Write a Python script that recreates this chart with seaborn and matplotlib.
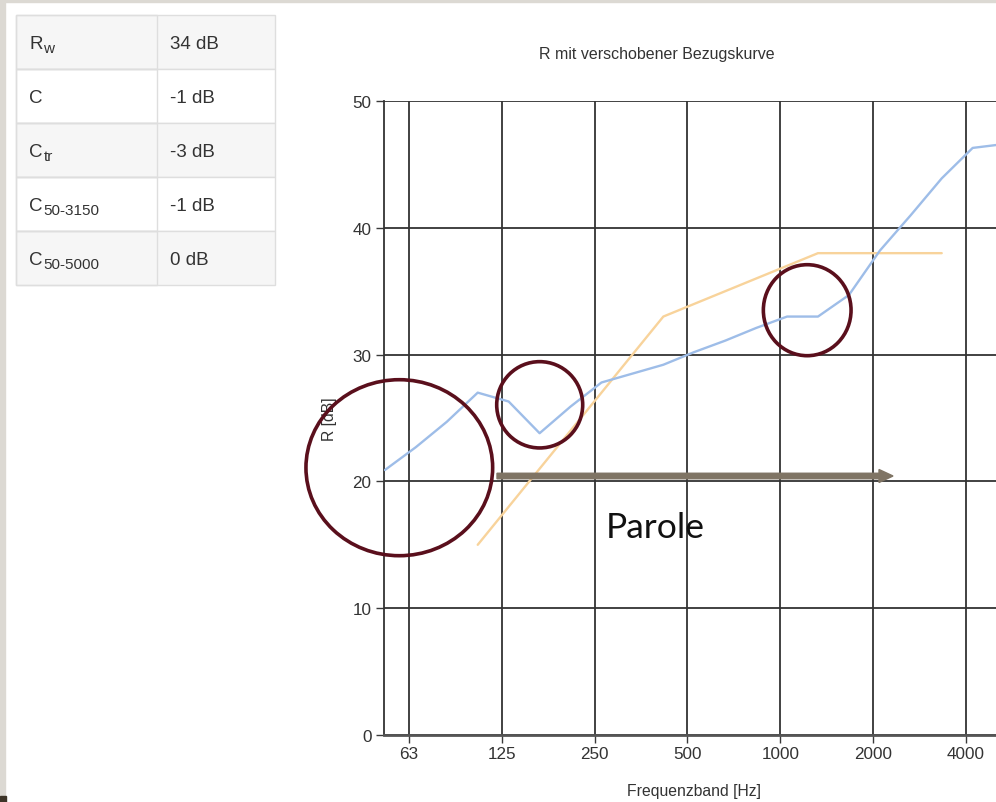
import matplotlib
matplotlib.use("Agg")
import matplotlib.pyplot as plt
from matplotlib.patches import Ellipse, Rectangle, FancyArrow
import numpy as np
import pandas as pd
import seaborn as sns

# ---------------- data ----------------
bands = ["50", "63", "80", "100", "125", "160", "200", "250", "315", "400", "500",
         "630", "800", "1000", "1250", "1600", "2000", "2500", "3150", "4000", "5000"]
R_measured = [20.9, 22.7, 24.7, 27.0, 26.3, 23.8, 25.9, 27.8, 28.5, 29.2, 30.2,
              31.1, 32.1, 33.0, 33.0, 34.7, 38.2, 41.0, 43.9, 46.3, 46.6]
R_reference = [np.nan, np.nan, np.nan, 15, 18, 21, 24, 27, 30, 33, 34,
               35, 36, 37, 38, 38, 38, 38, 38, np.nan, np.nan]
tick_labels = ["63", "125", "250", "500", "1000", "2000", "4000"]
y_ticks = [0, 10, 20, 30, 40, 50]

table_names = [("R", "w"), ("C", ""), ("C", "tr"), ("C", "50-3150"), ("C", "50-5000")]
table_values = ["34 dB", "-1 dB", "-3 dB", "-1 dB", "0 dB"]

title = "R mit verschobener Bezugskurve"
xlabel = "Frequenzband [Hz]"
ylabel = "R [dB]"
annotation_text = "Parole"

# ---------------- figure ----------------
sns.set_style("white")
plt.rcParams["font.family"] = ["Liberation Sans", "DejaVu Sans"]

W, H = 996, 803
fig = plt.figure(figsize=(W / 100, H / 100), dpi=100)

def fx(px):
    return px / W

def fy(py):
    return 1 - py / H

# axes: left spine at x=384, index 20 at ~1003.6, y 0 at 736, 50 at 102
ax_w = (1003.6 - 384) / W
ax = fig.add_axes([fx(384), fy(736), ax_w, (736 - 102) / H])

idx = np.arange(len(bands))
df = pd.DataFrame({"idx": idx, "measured": R_measured, "reference": R_reference})

sns.lineplot(data=df, x="idx", y="reference", ax=ax, color="#f8d39b", lw=1.7, zorder=3)
sns.lineplot(data=df, x="idx", y="measured", ax=ax, color="#9ebde8", lw=1.7, zorder=4)

ax.set_xlim(-0.03, 20.0)
ax.set_ylim(0, 50)

# grid lines at labelled bands (chart draws them slightly left of the band points)
tick_offset = -0.22
tick_pos = [bands.index(t) + tick_offset for t in tick_labels]
ax.set_xticks(tick_pos)
ax.set_xticklabels(tick_labels)
ax.set_yticks(y_ticks)
ax.grid(True, color="#333333", lw=1.3, zorder=1)
ax.set_axisbelow(True)

for side in ["top", "right"]:
    ax.spines[side].set_visible(False)
ax.spines["left"].set_color("#333333")
ax.spines["left"].set_linewidth(1.3)
ax.spines["bottom"].set_color("#555555")
ax.spines["bottom"].set_linewidth(2.0)

ax.tick_params(axis="both", which="major", length=6, width=1.0, color="#3a3a3a",
               labelsize=12.3, labelcolor="#333333", pad=3, direction="out",
               left=True, bottom=True)
ax.tick_params(axis="x", pad=2)

ax.set_xlabel(xlabel, fontsize=11.3, color="#333333", labelpad=16)
ax.set_ylabel(ylabel, fontsize=11.3, color="#333333", labelpad=11)
ax.set_title(title, fontsize=11.5, color="#333333", pad=31)
ax.title.set_x((657 - 384) / (1003.6 - 384))

# ---------------- annotations ----------------
circ_color = "#5a0f1c"
for (cx, cy, w, h) in [(399.3, 468.7, 186.7, 176.0),
                       (539.7, 405.8, 86.0, 86.3),
                       (807.2, 311.2, 87.7, 91.0)]:
    e = Ellipse((fx(cx), fy(cy)), w / W, h / H, transform=fig.transFigure,
                fill=False, edgecolor=circ_color, lw=2.6, zorder=10)
    fig.patches.append(e)

arrow = FancyArrow(fx(497), fy(477), fx(893) - fx(497), 0, width=5.5 / H,
                   head_width=13 / H, head_length=14 / W, length_includes_head=True,
                   transform=fig.transFigure, color="#7f7464", zorder=9)
fig.patches.append(arrow)

fig.text(fx(606), fy(528), annotation_text, fontsize=25.5, family=["Lato", "DejaVu Sans"],
         color="#111111", va="center", ha="left")

# ---------------- slide frame ----------------
fig.patches.append(Rectangle((0, 0), fx(5), 1, transform=fig.transFigure,
                             color="#dcd9d3", zorder=0))
fig.patches.append(Rectangle((0, fy(3)), 1, 3 / H, transform=fig.transFigure,
                             color="#dcd9d3", zorder=0))
fig.patches.append(Rectangle((0, 0), fx(6), 6 / H, transform=fig.transFigure,
                             color="#3d3428", zorder=1))

# ---------------- table ----------------
renderer = fig.canvas.get_renderer()
tx0, tx1, tx2 = 16, 157, 275
ty0, row_h = 16, 54
main_size, sub_size = 13.5, 11.0
cap_px = 0.72 * main_size * 100 / 72
for i, ((main, sub), val) in enumerate(zip(table_names, table_values)):
    top = ty0 + i * row_h
    bg = "#f6f6f6" if i % 2 == 0 else "#ffffff"
    fig.patches.append(Rectangle((fx(tx0), fy(top + row_h)), (tx2 - tx0) / W, row_h / H,
                                 transform=fig.transFigure, facecolor=bg,
                                 edgecolor="#dedede", lw=1.0, zorder=2))
    fig.patches.append(Rectangle((fx(tx0), fy(top + row_h)), (tx1 - tx0) / W, row_h / H,
                                 transform=fig.transFigure, facecolor="none",
                                 edgecolor="#dedede", lw=1.0, zorder=3))
    baseline = top + row_h / 2 - 1 + cap_px / 2
    t = fig.text(fx(29), fy(baseline), main, fontsize=main_size, color="#333333",
                 va="baseline", ha="left", zorder=5)
    if sub:
        bb = t.get_window_extent(renderer=renderer)
        fig.text((bb.x1 + 1) / W, fy(baseline + 4.3), sub, fontsize=sub_size,
                 color="#333333", va="baseline", ha="left", zorder=5)
    fig.text(fx(170), fy(baseline), val, fontsize=main_size, color="#333333",
             va="baseline", ha="left", zorder=5)

fig.savefig("out.png", dpi=100)
